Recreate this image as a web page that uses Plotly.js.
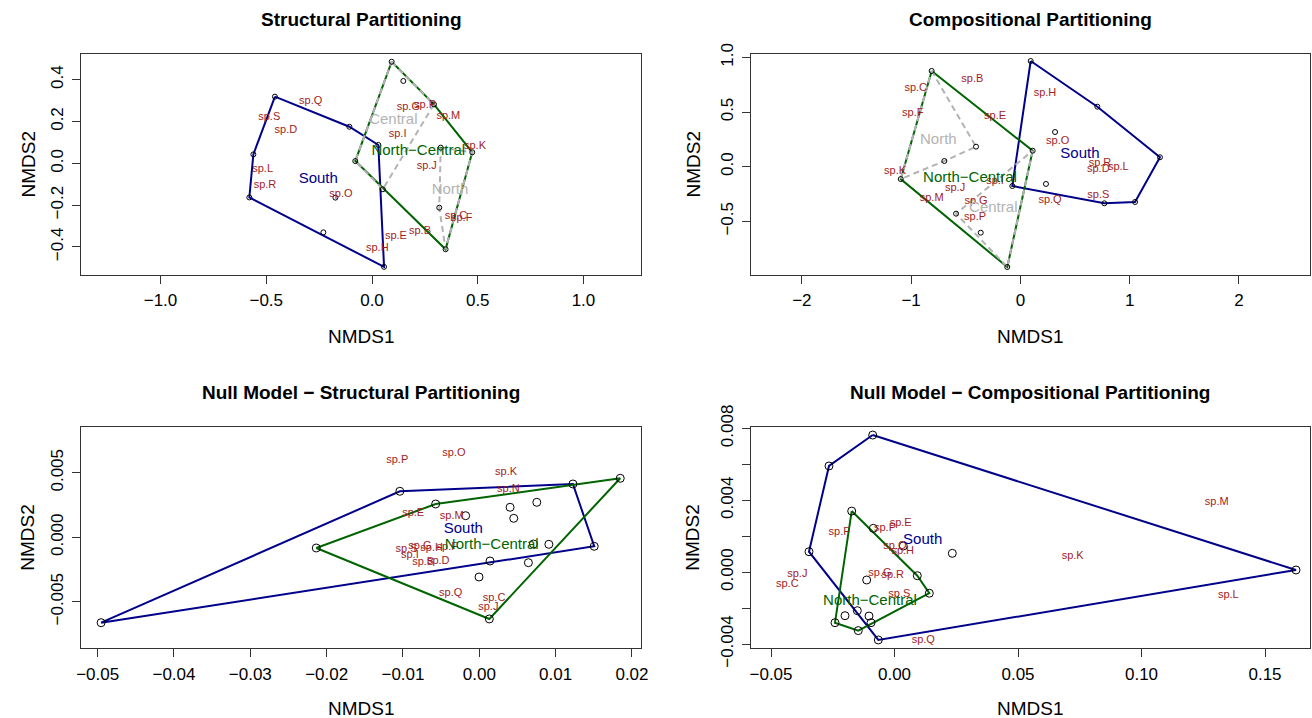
<!DOCTYPE html>
<html>
<head>
<meta charset="utf-8">
<script src="https://cdn.plot.ly/plotly-3.0.1.min.js"></script>
<style>html,body{margin:0;padding:0;background:#fff;}#chart{width:1312px;height:718px;}</style>
</head>
<body>
<div id="chart"></div>
<script>
// ---------- Panel 1: Structural Partitioning ----------
const p1SiteX = [-0.459,-0.107,0.030,0.057,-0.230,-0.580,-0.561,-0.173,0.093,0.148,0.293,0.325,0.474,-0.079,0.051,0.318,0.348];
const p1SiteY = [0.319,0.175,0.088,-0.495,-0.330,-0.163,0.043,-0.164,0.486,0.394,0.282,0.075,0.053,0.011,-0.124,-0.212,-0.411];
const p1SouthX = [-0.459,-0.107,0.030,0.057,-0.580,-0.561];
const p1SouthY = [0.319,0.175,0.088,-0.495,-0.163,0.043];
const p1NCX = [0.093,0.293,0.474,0.348,-0.079];
const p1NCY = [0.486,0.282,0.053,-0.411,0.011];
const p1CentralX = [0.093,0.293,0.051,-0.079];
const p1CentralY = [0.486,0.282,-0.124,0.011];
const p1NorthX = [0.325,0.474,0.348,0.318];
const p1NorthY = [0.075,0.053,-0.411,-0.212];
const p1SpNames = ["sp.Q","sp.S","sp.D","sp.L","sp.R","sp.O","sp.G","sp.P","sp.M","sp.I","sp.K","sp.J","sp.C","sp.F","sp.B","sp.E","sp.H"];
const p1SpX = [-0.290,-0.486,-0.407,-0.517,-0.506,-0.147,0.172,0.251,0.361,0.121,0.487,0.259,0.397,0.424,0.227,0.113,0.025];
const p1SpY = [0.295,0.220,0.158,-0.026,-0.105,-0.148,0.268,0.276,0.223,0.140,0.083,-0.016,-0.255,-0.263,-0.324,-0.351,-0.407];
const p1GroupNames = ["South","North\u2212Central","Central","North"];
const p1GroupX = [-0.254,0.219,0.101,0.369];
const p1GroupY = [-0.075,0.056,0.207,-0.128];

// ---------- Panel 2: Compositional Partitioning ----------
const p2SiteX = [-0.812,0.112,-1.095,-0.120,-0.406,-0.696,-0.589,-0.363,-0.074,0.317,0.234,0.704,0.768,0.094,1.277,1.049];
const p2SiteY = [0.876,0.146,-0.113,-0.918,0.183,0.052,-0.430,-0.604,-0.177,0.317,-0.158,0.549,-0.335,0.967,0.086,-0.323];
const p2SouthX = [0.094,0.704,1.277,1.049,0.768,-0.074];
const p2SouthY = [0.967,0.549,0.086,-0.323,-0.335,-0.177];
const p2NCX = [-0.812,0.112,-0.120,-1.095];
const p2NCY = [0.876,0.146,-0.918,-0.113];
const p2NorthX = [-0.812,-0.406,-0.696,-1.095];
const p2NorthY = [0.876,0.183,0.052,-0.113];
const p2CentralX = [0.112,-0.120,-0.589];
const p2CentralY = [0.146,-0.918,-0.430];
const p2SpNames = ["sp.B","sp.C","sp.F","sp.H","sp.E","sp.O","sp.K","sp.I","sp.J","sp.M","sp.G","sp.P","sp.Q","sp.R","sp.D","sp.L","sp.S"];
const p2SpX = [-0.440,-0.958,-0.985,0.225,-0.232,0.341,-1.147,-0.232,-0.598,-0.812,-0.406,-0.415,0.271,0.728,0.713,0.896,0.713];
const p2SpY = [0.800,0.717,0.485,0.672,0.457,0.229,-0.046,-0.137,-0.198,-0.289,-0.320,-0.466,-0.305,0.031,-0.021,-0.009,-0.262];
const p2GroupNames = ["South","North\u2212Central","North","Central"];
const p2GroupX = [0.545,-0.461,-0.751,-0.248];
const p2GroupY = [0.113,-0.106,0.238,-0.381];

// ---------- Panel 3: Null Model - Structural Partitioning ----------
const p3SiteX = [-0.04955,-0.01041,0.01226,0.01846,0.01505,-0.00572,0.00131,-0.00179,0.00403,0.00753,0.00451,0.00709,0.00911,0.0014,0.00643,-0.00004,-0.02136];
const p3SiteY = [-0.00662,0.003566,0.004132,0.004574,-0.000698,0.002581,-0.00633,0.001674,0.002326,0.002713,0.001473,-0.000519,-0.000543,-0.001837,-0.001969,-0.003078,-0.00083];
const p3SouthX = [-0.04955,-0.01041,0.01226,0.01505];
const p3SouthY = [-0.00662,0.003566,0.004132,-0.000698];
const p3NCX = [-0.02136,-0.00572,0.01846,0.00131];
const p3NCY = [-0.00083,0.002581,0.004574,-0.00633];
const p3SpNames = ["sp.P","sp.O","sp.K","sp.N","sp.E","sp.M","sp.S","sp.G","sp.H","sp.F","sp.I","sp.B","sp.D","sp.Q","sp.C","sp.J"];
const p3SpX = [-0.01075,-0.00332,0.0035,0.0038,-0.00866,-0.00362,-0.00953,-0.00778,-0.00625,-0.0042,-0.0091,-0.00735,-0.00538,-0.00375,0.00193,0.00118];
const p3SpY = [0.00594,0.00651,0.00501,0.00374,0.00186,0.0016,-0.000907,-0.000729,-0.000853,-0.000775,-0.001426,-0.001969,-0.00189,-0.00434,-0.00473,-0.00546];
const p3GroupNames = ["South","North\u2212Central"];
const p3GroupX = [-0.0021,0.00163];
const p3GroupY = [0.000643,-0.000597];

// ---------- Panel 4: Null Model - Compositional Partitioning ----------
const p4SiteX = [-0.00883,-0.02652,-0.03462,-0.00656,0.16255,-0.01733,0.01409,-0.01466,-0.02409,0.00923,-0.00858,0.00356,0.0234,-0.01126,-0.01506,-0.02004,-0.01032,-0.00951];
const p4SiteY = [0.00763,0.00591,0.00114,-0.00377,0.000122,0.0034,-0.00117,-0.00325,-0.00281,-0.000195,0.00244,0.001458,0.00105,-0.000434,-0.00214,-0.00242,-0.00244,-0.00281];
const p4SouthX = [-0.00883,0.16255,-0.00656,-0.03462,-0.02652];
const p4SouthY = [0.00763,0.000122,-0.00377,0.00114,0.00591];
const p4NCX = [-0.01733,0.00923,0.01409,-0.01466,-0.02409];
const p4NCY = [0.0034,-0.000195,-0.00117,-0.00325,-0.00281];
const p4SpNames = ["sp.E","sp.P","sp.F","sp.O","sp.H","sp.J","sp.C","sp.G","sp.R","sp.S","sp.Q","sp.M","sp.K","sp.L"];
const p4SpX = [0.00251,-0.00385,-0.02235,0.0002,0.00332,-0.03935,-0.0434,-0.00587,-0.00073,0.00194,0.01166,0.13045,0.07215,0.13514];
const p4SpY = [0.00275,0.00244,0.0022,0.00146,0.00114,-0.00012,-0.00066,-0.00006,-0.00017,-0.00121,-0.00377,0.00387,0.00086,-0.00131];
const p4GroupNames = ["South","North\u2212Central"];
const p4GroupX = [0.01142,-0.00992];
const p4GroupY = [0.00175,-0.0016];

// ---------- Tick values / labels ----------
const p1XTicks = [-1.0,-0.5,0,0.5,1.0];
const p1XLabels = ["\u22121.0","\u22120.5","0.0","0.5","1.0"];
const p1YTicks = [-0.4,-0.2,0,0.2,0.4];
const p1YLabels = ["\u22120.4","\u22120.2","0.0","0.2","0.4"];
const p2XTicks = [-2,-1,0,1,2];
const p2XLabels = ["\u22122","\u22121","0","1","2"];
const p2YTicks = [-0.5,0,0.5,1.0];
const p2YLabels = ["\u22120.5","0.0","0.5","1.0"];
const p3XTicks = [-0.05,-0.04,-0.03,-0.02,-0.01,0,0.01,0.02];
const p3XLabels = ["\u22120.05","\u22120.04","\u22120.03","\u22120.02","\u22120.01","0.00","0.01","0.02"];
const p3YTicks = [-0.005,0,0.005];
const p3YLabels = ["\u22120.005","0.000","0.005"];
const p4XTicks = [-0.05,0,0.05,0.10,0.15];
const p4XLabels = ["\u22120.05","0.00","0.05","0.10","0.15"];
const p4YTicks = [-0.004,-0.002,0,0.002,0.004,0.006,0.008];
const p4YLabels = ["\u22120.004","","0.000","","0.004","","0.008"];

const titles = ["Structural Partitioning","Compositional Partitioning","Null Model \u2212 Structural Partitioning","Null Model \u2212 Compositional Partitioning"];

// ---------- Styling ----------
const FONT = "Liberation Sans, Arial, Helvetica, sans-serif";
const BLUE = "#00008B", GREEN = "#006400", GRAY = "#b3b3b3", SPCOL = "#a11d1d";

function closed(a){ return a.concat([a[0]]); }
function hull(xs, ys, color, dash, ax){
  return {type:'scatter', mode:'lines', x:closed(xs), y:closed(ys), xaxis:'x'+ax, yaxis:'y'+ax,
          line:{color:color, width:2, dash:dash||'solid'}, hoverinfo:'skip', showlegend:false};
}
function sites(xs, ys, size, ax){
  return {type:'scatter', mode:'markers', x:xs, y:ys, xaxis:'x'+ax, yaxis:'y'+ax,
          marker:{symbol:'circle-open', size:size, color:'#000', line:{color:'#000', width:1}}, showlegend:false};
}
function labels(names, xs, ys, colors, size, ax){
  return {type:'scatter', mode:'text', x:xs, y:ys, text:names, xaxis:'x'+ax, yaxis:'y'+ax,
          textposition:'middle center', textfont:{family:FONT, size:size, color:colors}, showlegend:false, cliponaxis:false};
}
const DASH = '6px,4px';
const traces = [
  hull(p1SouthX,p1SouthY,BLUE,null,''),
  hull(p1NCX,p1NCY,GREEN,null,''),
  hull(p1CentralX,p1CentralY,GRAY,DASH,''),
  hull(p1NorthX,p1NorthY,GRAY,DASH,''),
  sites(p1SiteX,p1SiteY,5,''),
  labels(p1SpNames,p1SpX,p1SpY,SPCOL,11,''),
  labels(p1GroupNames,p1GroupX,p1GroupY,[BLUE,GREEN,GRAY,GRAY],15,''),

  hull(p2SouthX,p2SouthY,BLUE,null,'2'),
  hull(p2NCX,p2NCY,GREEN,null,'2'),
  hull(p2NorthX,p2NorthY,GRAY,DASH,'2'),
  hull(p2CentralX,p2CentralY,GRAY,DASH,'2'),
  sites(p2SiteX,p2SiteY,5,'2'),
  labels(p2SpNames,p2SpX,p2SpY,SPCOL,11,'2'),
  labels(p2GroupNames,p2GroupX,p2GroupY,[BLUE,GREEN,GRAY,GRAY],15,'2'),

  hull(p3SouthX,p3SouthY,BLUE,null,'3'),
  hull(p3NCX,p3NCY,GREEN,null,'3'),
  sites(p3SiteX,p3SiteY,8,'3'),
  labels(p3SpNames,p3SpX,p3SpY,SPCOL,11,'3'),
  labels(p3GroupNames,p3GroupX,p3GroupY,[BLUE,GREEN],15,'3'),

  hull(p4SouthX,p4SouthY,BLUE,null,'4'),
  hull(p4NCX,p4NCY,GREEN,null,'4'),
  sites(p4SiteX,p4SiteY,8,'4'),
  labels(p4SpNames,p4SpX,p4SpY,SPCOL,11,'4'),
  labels(p4GroupNames,p4GroupX,p4GroupY,[BLUE,GREEN],15,'4')
];

const W = 1312, H = 718;
function px2x(p){ return p / W; }
function px2y(p){ return 1 - p / H; }
function axis(domain, range, tv, tt, anchor, isY){
  return {domain:domain, range:range, tickmode:'array', tickvals:tv, ticktext:tt, anchor:anchor,
    showline:true, mirror:true, linecolor:'#333', linewidth:1, ticks:'outside', ticklen:8, tickwidth:1, tickcolor:'#333',
    showgrid:false, zeroline:false, tickangle: isY ? -90 : 0, ticklabelstandoff: 2,
    tickfont:{family:FONT, size:17, color:'#000'}, fixedrange:true};
}
const dxL = [px2x(81), px2x(641)], dxR = [px2x(750.7), px2x(1310)];
const dyT = [px2y(275), px2y(54)], dyB = [px2y(648.3), px2y(427.3)];

const layout = {
  width:W, height:H, autosize:false, margin:{l:0,r:0,t:0,b:0},
  paper_bgcolor:'#fff', plot_bgcolor:'#fff', showlegend:false,
  font:{family:FONT, color:'#000'},
  xaxis:axis(dxL,[-1.376,1.272],p1XTicks,p1XLabels,'y',false),
  yaxis:axis(dyT,[-0.534,0.523],p1YTicks,p1YLabels,'x',true),
  xaxis2:axis(dxR,[-2.468,2.650],p2XTicks,p2XLabels,'y2',false),
  yaxis2:axis(dyT,[-0.991,1.031],p2YTicks,p2YLabels,'x2',true),
  xaxis3:axis(dxL,[-0.05218,0.02118],p3XTicks,p3XLabels,'y3',false),
  yaxis3:axis(dyB,[-0.008605,0.008527],p3YTicks,p3YLabels,'x3',true),
  xaxis4:axis(dxR,[-0.05822,0.16822],p4XTicks,p4XLabels,'y4',false),
  yaxis4:axis(dyB,[-0.004234,0.008061],p4YTicks,p4YLabels,'x4',true),
  annotations:[]
};
const cxL = (81+641)/2, cxR = (750.7+1310)/2;
function ann(text, xpx, ypx, size, bold, angle){
  return {text: bold ? '<b>'+text+'</b>' : text, xref:'paper', yref:'paper', x:px2x(xpx), y:px2y(ypx),
    xanchor:'center', yanchor:'middle', showarrow:false, textangle:angle||0,
    font:{family:FONT, size:size, color:'#000'}};
}
layout.annotations.push(ann(titles[0], cxL, 19, 19, true));
layout.annotations.push(ann(titles[1], cxR, 19, 19, true));
layout.annotations.push(ann(titles[2], cxL, 392, 19, true));
layout.annotations.push(ann(titles[3], cxR, 392, 19, true));
layout.annotations.push(ann('NMDS1', cxL, 336, 19, false));
layout.annotations.push(ann('NMDS1', cxR, 336, 19, false));
layout.annotations.push(ann('NMDS1', cxL, 708, 19, false));
layout.annotations.push(ann('NMDS1', cxR, 708, 19, false));
layout.annotations.push(ann('NMDS2', 28, (54+275)/2, 19, false, -90));
layout.annotations.push(ann('NMDS2', 693, (54+275)/2, 19, false, -90));
layout.annotations.push(ann('NMDS2', 28, (427.3+648.3)/2, 19, false, -90));
layout.annotations.push(ann('NMDS2', 693, (427.3+648.3)/2, 19, false, -90));

Plotly.newPlot('chart', traces, layout, {staticPlot:true, displayModeBar:false});
</script>
</body>
</html>
